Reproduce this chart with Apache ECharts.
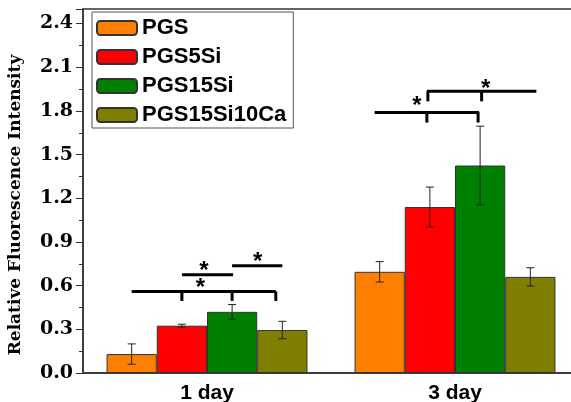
<!DOCTYPE html>
<html>
<head>
<meta charset="utf-8">
<script src="https://cdn.jsdelivr.net/npm/echarts@6/dist/echarts.min.js"></script>
<style>
  html, body { margin: 0; padding: 0; background: #fff; }
  #chart { width: 571px; height: 402px; }
</style>
</head>
<body>
<div id="chart"></div>
<script>
// categories and groups
const days = ['1 day', '3 day']
const groups = ['PGS', 'PGS5Si', 'PGS15Si', 'PGS15Si10Ca']
const colors = ['#FF8000', '#FF0000', '#008000', '#808000']

// mean values and error (SD) per group, [1 day, 3 day]
const pgs = [0.13, 0.695]
const pgs5Si = [0.325, 1.14]
const pgs15Si = [0.42, 1.425]
const pgs15Si10Ca = [0.295, 0.66]
const pgsErr = [0.07, 0.07]
const pgs5SiErr = [0.01, 0.137]
const pgs15SiErr = [0.05, 0.27]
const pgs15Si10CaErr = [0.06, 0.063]

// significance brackets (positions in bar slots inside a day group)
const bracketCat = [0, 0, 0, 1, 1]
const bracketFrom = [0, 1, 2, -0.1, 0.94]
const bracketTo = [2.87, 2.02, 3, 1.98, 3.12]
const bracketY = [0.56, 0.674, 0.736, 1.79, 1.935]
const bracketTickY = [0.495, 0.674, 0.736, 1.72, 1.866]
const bracketTicks = [[1, 2, 2.87], [], [], [0.94, 1.96], [0.96, 2.03]]
const starBar = [1.37, 1.44, 2.51, 0.74, 2.11]
const starY = [0.62, 0.74, 0.8, 1.87, 1.99]

const means = [pgs, pgs5Si, pgs15Si, pgs15Si10Ca]
const errs = [pgsErr, pgs5SiErr, pgs15SiErr, pgs15Si10CaErr]
const barGapRatio = 0.19

const errData = []
means.forEach((m, s) => {
  m.forEach((v, c) => {
    errData.push([c, v, errs[s][c], s])
  })
})
const bracketData = bracketCat.map((c, i) => [c, bracketY[i], i])

function slotX(api, cat, slot) {
  const cx = api.coord([cat, 0])[0]
  const band = api.size([1, 0])[0]
  const bw = band * (1 - barGapRatio) / 4
  return cx + (slot - 1.5) * bw
}

const barSeries = groups.map((name, s) => ({
  name: name,
  type: 'bar',
  barGap: '0%',
  barCategoryGap: '19%',
  itemStyle: {
    color: colors[s],
    borderColor: '#333',
    borderWidth: 1,
  },
  data: means[s],
}))

const option = {
  animation: false,
  grid: {
    left: 83,
    width: 496,
    top: 9,
    bottom: 29,
    outerBoundsMode: 'none',
    containLabel: false,
    show: true,
    borderColor: '#333',
    borderWidth: 1.5,
  },
  legend: {
    orient: 'vertical',
    left: 92,
    top: 12,
    padding: [5, 7, 2, 4],
    itemWidth: 40,
    itemHeight: 14,
    itemGap: 7,
    borderColor: '#555',
    borderWidth: 1,
    data: groups,
    textStyle: {
      color: '#000',
      fontFamily: 'Liberation Sans',
      fontWeight: 'bold',
      fontSize: 22,
      lineHeight: 21,
    },
  },
  xAxis: {
    type: 'category',
    data: days,
    axisTick: { show: false },
    axisLine: { lineStyle: { color: '#333', width: 1.5 } },
    axisLabel: {
      color: '#000',
      fontFamily: 'Liberation Sans',
      fontWeight: 'bold',
      fontSize: 21,
      margin: 10,
    },
  },
  yAxis: {
    type: 'value',
    min: 0,
    max: 2.5,
    interval: 0.3,
    name: 'Relative Fluorescence Intensity',
    nameLocation: 'middle',
    nameGap: 59,
    nameTextStyle: {
      color: '#000',
      fontFamily: 'DejaVu Serif',
      fontWeight: 'bold',
      fontSize: 17,
      padding: [0, 28, 0, 0],
    },
    axisLine: { show: true, lineStyle: { color: '#333', width: 1.5 } },
    axisTick: { show: true, length: 7, lineStyle: { color: '#333' } },
    minorTick: { show: true, splitNumber: 2, length: 4, lineStyle: { color: '#333' } },
    splitLine: { show: false },
    axisLabel: {
      color: '#000',
      fontFamily: 'DejaVu Serif',
      fontWeight: 'bold',
      fontSize: 19,
      margin: 10,
      formatter: function (v) {
        const k = Math.round(v / 0.3)
        return Math.abs(k * 0.3 - v) < 1e-6 ? v.toFixed(1) : ''
      },
    },
  },
  series: barSeries.concat([
    {
      type: 'custom',
      name: 'err',
      clip: false,
      z: 5,
      encode: { x: 0, y: 1 },
      data: errData,
      renderItem: function (params, api) {
        const cat = api.value(0)
        const v = api.value(1)
        const e = api.value(2)
        const s = api.value(3)
        const x = slotX(api, cat, s)
        const yTop = api.coord([cat, v + e])[1]
        const yBot = api.coord([cat, v - e])[1]
        const cap = 4
        const style = { stroke: '#222', lineWidth: 1 }
        return {
          type: 'group',
          children: [
            { type: 'line', shape: { x1: x, y1: yTop, x2: x, y2: yBot }, style: style },
            { type: 'line', shape: { x1: x - cap, y1: yTop, x2: x + cap, y2: yTop }, style: style },
            { type: 'line', shape: { x1: x - cap, y1: yBot, x2: x + cap, y2: yBot }, style: style },
          ],
        }
      },
    },
    {
      type: 'custom',
      name: 'sig',
      clip: false,
      z: 6,
      encode: { x: 0, y: 1 },
      data: bracketData,
      renderItem: function (params, api) {
        const cat = api.value(0)
        const i = api.value(2)
        const y = api.coord([cat, bracketY[i]])[1]
        const yt = api.coord([cat, bracketTickY[i]])[1]
        const style = { stroke: '#000', lineWidth: 3 }
        const children = [
          {
            type: 'line',
            shape: { x1: slotX(api, cat, bracketFrom[i]), y1: y, x2: slotX(api, cat, bracketTo[i]), y2: y },
            style: style,
          },
        ]
        bracketTicks[i].forEach((b) => {
          const tx = slotX(api, cat, b)
          children.push({ type: 'line', shape: { x1: tx, y1: y, x2: tx, y2: yt }, style: style })
        })
        children.push({
          type: 'text',
          style: {
            text: '*',
            x: slotX(api, cat, starBar[i]),
            y: api.coord([cat, starY[i]])[1] + 6,
            font: 'bold 24px "Liberation Sans"',
            textAlign: 'center',
            textVerticalAlign: 'middle',
            fill: '#000',
          },
        })
        return { type: 'group', children: children }
      },
    },
  ]),
}

const myChart = echarts.init(document.getElementById('chart'))
myChart.setOption(option)
</script>
</body>
</html>
